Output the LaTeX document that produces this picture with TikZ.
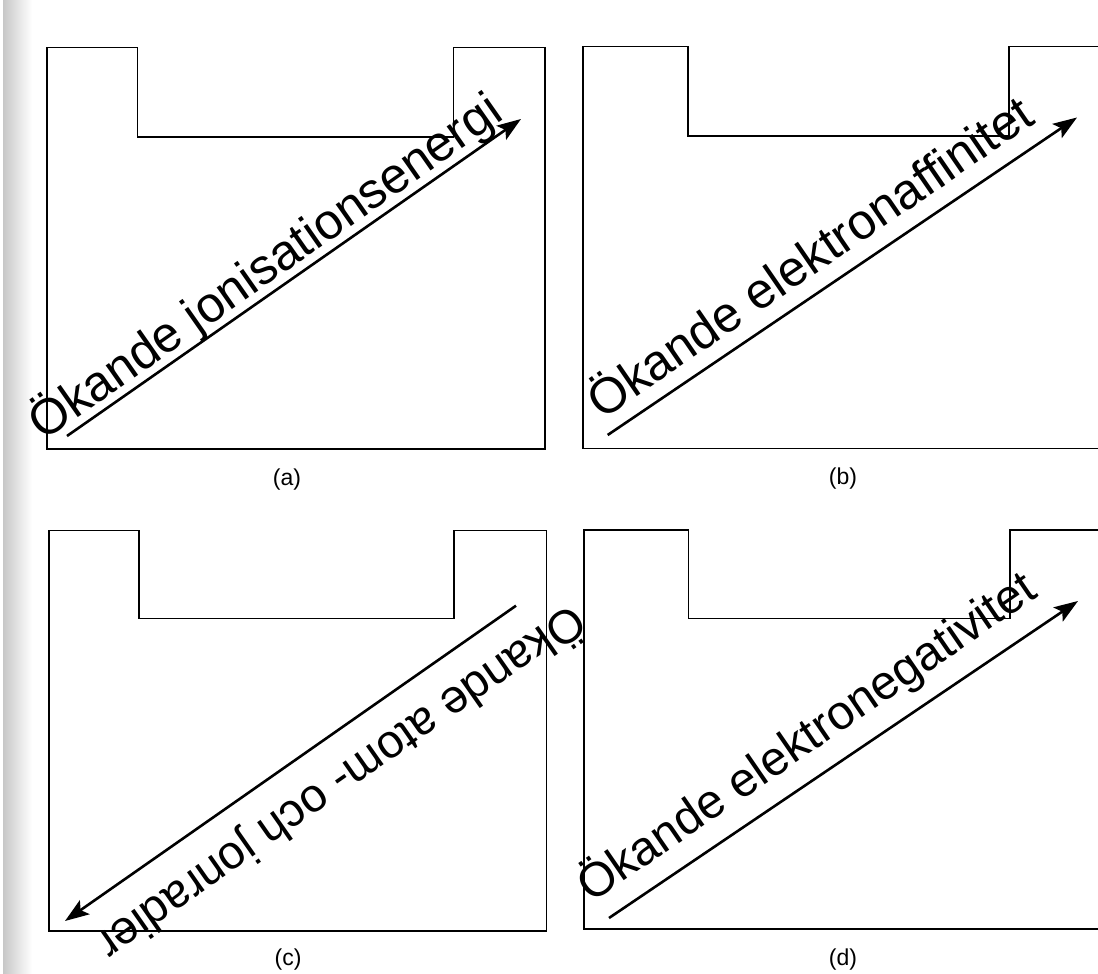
\documentclass[tikz,border=0pt]{standalone}
\usepackage{fontspec}
\setmainfont{Liberation Sans}
\usetikzlibrary{arrows.meta}
\tikzset{
  outline/.style={line width=1.6pt, black},
  trend/.style={line width=2.6pt, -{Stealth[length=24pt,width=17pt,inset=5pt]}},
  biglabel/.style={anchor=base west, inner sep=0pt, font=\fontsize{50}{58}\selectfont},
  midlabel/.style={anchor=base west, inner sep=0pt, font=\fontsize{48}{56}\selectfont},
  smalllabel/.style={anchor=base west, inner sep=0pt, font=\fontsize{47}{55}\selectfont},
  caption/.style={inner sep=0pt, font=\fontsize{23}{27}\selectfont}
}
\begin{document}
\begin{tikzpicture}[x=1pt, y=-1pt]
\useasboundingbox (0,0) rectangle (1098,974);
\clip (0,0) rectangle (1098,974);
% scan edge shading
\shade[left color=black!22, right color=white] (3,0) rectangle (32,974);

% (a)
\draw[outline] (47,449) -- (47,47.5) -- (137.5,47.5) -- (137.5,137) -- (453.5,137) -- (453.5,47.5) -- (545,47.5) -- (545,449) -- cycle;
\coordinate (as) at (67,436);
\coordinate (ae) at (521,119);
\draw[trend] (as) -- (ae);
\node[biglabel, rotate=35] (la) at (43,442) {Ökande jonisationsenergi};
\node[caption] (ca) at (287,480) {(a)};

% (b)
\draw[outline] (583,448.5) -- (583,46.5) -- (688,46.5) -- (688,136) -- (1009,136) -- (1009,46.5) -- (1105,46.5) -- (1105,448.5) -- cycle;
\coordinate (bs) at (607.7,435);
\coordinate (be) at (1077,117.5);
\draw[trend] (bs) -- (be);
\node[biglabel, rotate=34.5] (lb) at (602,421) {Ökande elektronaffinitet};
\node[caption] (cb) at (843,479) {(b)};

% (c)
\draw[outline] (49,931) -- (49,530.5) -- (139,530.5) -- (139,618.5) -- (454,618.5) -- (454,530.5) -- (546.5,530.5) -- (546.5,931) -- cycle;
\coordinate (cs) at (516,605.7);
\coordinate (ce) at (65,921);
\draw[trend] (cs) -- (ce);
\node[smalllabel, rotate=215] (lc) at (572,603) {Ökande atom- och jonradier};
\node[caption] (cc) at (288,960) {(c)};

% (d)
\draw[outline] (584,929) -- (584,530) -- (688.5,530) -- (688.5,618.5) -- (1010,618.5) -- (1010,530) -- (1105,530) -- (1105,929) -- cycle;
\coordinate (ds) at (609,918);
\coordinate (de) at (1078,601);
\draw[trend] (ds) -- (de);
\node[midlabel, rotate=34.5] (ld) at (591,904) {Ökande elektronegativitet};
\node[caption] (cd) at (843,960) {(d)};
\end{tikzpicture}
\end{document}
